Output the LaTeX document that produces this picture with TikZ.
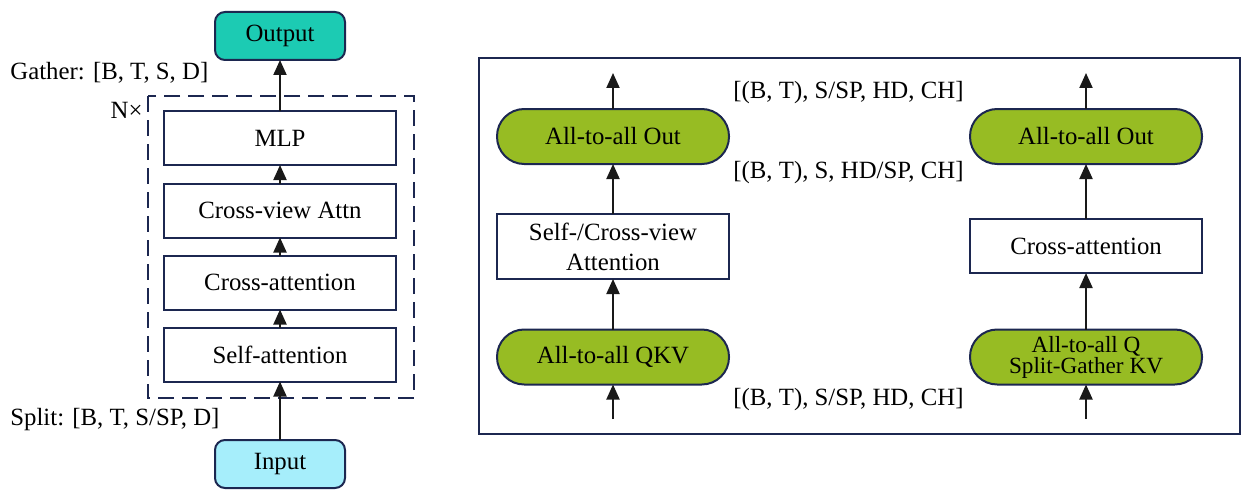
\documentclass[tikz,border=0pt]{standalone}
\usepackage{fontspec}
\setmainfont{Liberation Serif}
\usetikzlibrary{arrows.meta}

\definecolor{navy}{HTML}{1C2750}
\definecolor{tealfill}{HTML}{1CCBB3}
\definecolor{cyanfill}{HTML}{A6EEFB}
\definecolor{olivefill}{HTML}{97BC23}

\tikzset{
    txt/.style={font=\rmfamily\fontsize{12.4}{15}\selectfont},
    block/.style={txt, draw=navy, line width=1pt, fill=white, align=center,
        minimum width=116pt, minimum height=27pt, inner sep=0pt, outer sep=0pt},
    io/.style={block, rounded corners=5pt, minimum width=65pt, minimum height=24pt},
    comm/.style={block, fill=olivefill, rounded corners=13.6pt, minimum height=27.5pt},
    flow/.style={line width=1pt, black!90, -{Triangle[length=7.5pt, width=6.5pt]}},
}

\begin{document}
\begin{tikzpicture}[x=0.5pt, y=-0.5pt]

            \useasboundingbox (0,0) rectangle (1245,492);

            %----- LEFT: TRANSFORMER BLOCK -----
            \node[io, fill=tealfill] (out) at (280,36) {Output};
            \node[io, fill=cyanfill] (inp) at (280,464) {Input};
            \node[block] (mlp) at (280,138) {MLP};
            \node[block] (cva) at (280,210.5) {Cross-view Attn};
            \node[block] (ca)  at (280,282.5) {Cross-attention};
            \node[block] (sa)  at (280,354.5) {Self-attention};

            % repeated N times
            \draw[navy, line width=1pt, dash pattern=on 8pt off 4pt]
                (148,96) rectangle (414,398);
            \node[txt, anchor=east, inner sep=0pt] (ntimes) at (143,110) {N×};

            \node[txt, anchor=west, inner sep=0pt] (gather) at (10,73) {Gather: [B, T, S, D]};
            \node[txt, anchor=west, inner sep=0pt] (split) at (10,420) {Split: [B, T, S/SP, D]};

            \draw[flow] (inp) -- (sa);
            \draw[flow] (sa) -- (ca);
            \draw[flow] (ca) -- (cva);
            \draw[flow] (cva) -- (mlp);
            \draw[flow] (mlp) -- (out);

            %----- RIGHT: SEQUENCE PARALLEL -----
            \draw[navy, line width=1pt] (479,58) rectangle (1240,434);

            % self-/cross-view branch
            \node[comm] (outL) at (613,136.5) {All-to-all Out};
            \node[block, minimum height=32.5pt] (attnL) at (613,246.5) {Self-/Cross-view\\Attention};
            \node[comm] (qkvL) at (613,357) {All-to-all QKV};
            \coordinate (topL) at (613,73);
            \coordinate (botL) at (613,419);

            \draw[flow] (botL) -- (qkvL);
            \draw[flow] (qkvL) -- (attnL);
            \draw[flow] (attnL) -- (outL);
            \draw[flow] (outL) -- (topL);

            % cross-attention branch
            \node[comm] (outR) at (1086,136.5) {All-to-all Out};
            \node[block] (caR) at (1086,246) {Cross-attention};
            \node[comm, font=\rmfamily\fontsize{11.6}{10.5}\selectfont] (qR) at (1086,357) {All-to-all Q\\Split-Gather KV};
            \coordinate (topR) at (1086,73);
            \coordinate (botR) at (1086,419);

            \draw[flow] (botR) -- (qR);
            \draw[flow] (qR) -- (caR);
            \draw[flow] (caR) -- (outR);
            \draw[flow] (outR) -- (topR);

            % shapes
            \node[txt, anchor=west, inner sep=0pt] (shpA) at (733,93) {[(B, T), S/SP, HD, CH]};
            \node[txt, anchor=west, inner sep=0pt] (shpB) at (733,173) {[(B, T), S, HD/SP, CH]};
            \node[txt, anchor=west, inner sep=0pt] (shpC) at (733,400) {[(B, T), S/SP, HD, CH]};

        \end{tikzpicture}
\end{document}
